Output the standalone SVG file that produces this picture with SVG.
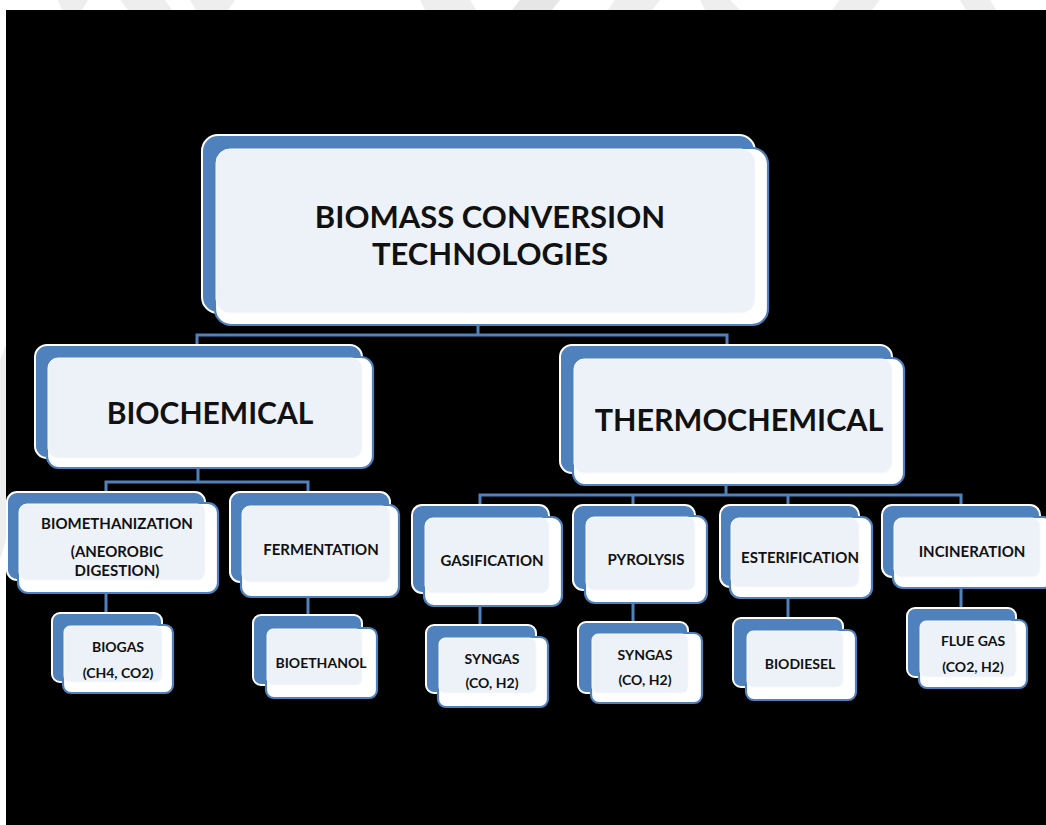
<svg xmlns="http://www.w3.org/2000/svg" width="1046" height="825" viewBox="0 0 1046 825">
<style>
.back{fill:#4F81BD;stroke:#FFFFFF;stroke-width:2}
.front{fill:#FFFFFF;stroke:#4F81BD;stroke-width:2.2}
.ov{fill:#EDF2F9;stroke:#F7F9FC;stroke-width:1}
.conn{fill:none;stroke:#4F81BD;stroke-width:3}
text{font-family:Lato,"Liberation Sans",sans-serif;font-weight:bold;fill:#111;text-anchor:middle}
.t1{font-size:31px}
.t2{font-size:30px}
.t2b{font-size:30.5px}
.t3{font-size:15px}
.t4{font-size:14px}
</style>
<rect x="0" y="0" width="1046" height="825" fill="#FFFFFF"/>
<g fill="#EEEEEE">
<polygon points="58,0 88,0 82,10 62,10"/>
<polygon points="120,0 165,0 172,10 128,10"/>
<polygon points="190,0 235,0 228,10 196,10"/>
<polygon points="420,0 470,0 476,10 425,10"/>
<polygon points="520,0 560,0 552,10 512,10" fill="#E6E6E6"/>
<polygon points="615,0 660,0 652,10 608,10"/>
<polygon points="700,0 730,0 740,10 705,10"/>
<polygon points="840,0 880,0 872,10 832,10"/>
<polygon points="960,0 990,0 996,10 966,10"/>
<polygon points="0,360 6,345 6,540 0,560"/>
</g>
<rect x="6" y="10" width="1040" height="815" fill="#000000"/>
<g id="connectors">
<path class="conn" d="M478,325 V335 M197,345 V335 H727 V345"/>
<path class="conn" d="M198,468 V482 M106,492 V482 H308 V492"/>
<path class="conn" d="M726,485 V495 M480,505 V495 H961 V505 M633,495 V505 M788,495 V505"/>
<path class="conn" d="M106,593 V613 M308,597 V615 M480,606 V625 M633,603 V622 M788,598 V618 M961,588 V608"/>
</g>
<g id="n-top">
<rect class="back" x="202" y="135" width="553" height="178" rx="16"/>
<rect class="front" x="215" y="148" width="553" height="177" rx="16"/>
<rect class="ov" x="216" y="149" width="539" height="164" rx="14"/>
<text class="t1" x="490" y="228">BIOMASS CONVERSION</text>
<text class="t1" x="490" y="265">TECHNOLOGIES</text>
</g>
<g id="n-biochemical">
<rect class="back" x="35" y="345" width="327" height="113" rx="12"/>
<rect class="front" x="47" y="357" width="326" height="111" rx="12"/>
<rect class="ov" x="48" y="358" width="314" height="100" rx="10"/>
<text class="t2" x="210" y="424">BIOCHEMICAL</text>
</g>
<g id="n-thermochemical">
<rect class="back" x="560" y="345" width="332" height="128" rx="12"/>
<rect class="front" x="573" y="358" width="331" height="127" rx="12"/>
<rect class="ov" x="574" y="359" width="318" height="114" rx="10"/>
<text class="t2b" x="739" y="431">THERMOCHEMICAL</text>
</g>
<g id="n-biomethanization">
<rect class="back" x="7" y="492" width="198" height="88" rx="10"/>
<rect class="front" x="18" y="503" width="200" height="90" rx="10"/>
<rect class="ov" x="19" y="504" width="186" height="76" rx="8"/>
<text class="t3" x="117" y="529">BIOMETHANIZATION</text>
<text class="t3" x="117" y="557">(ANEOROBIC</text>
<text class="t3" x="117" y="576">DIGESTION)</text>
</g>
<g id="n-fermentation">
<rect class="back" x="230" y="492" width="160" height="90" rx="10"/>
<rect class="front" x="241" y="505" width="158" height="92" rx="10"/>
<rect class="ov" x="242" y="506" width="148" height="76" rx="8"/>
<text class="t3" x="321" y="555">FERMENTATION</text>
</g>
<g id="n-gasification">
<rect class="back" x="412" y="505" width="137" height="88" rx="10"/>
<rect class="front" x="424" y="517" width="138" height="89" rx="10"/>
<rect class="ov" x="425" y="518" width="124" height="75" rx="8"/>
<text class="t3" x="492" y="566">GASIFICATION</text>
</g>
<g id="n-pyrolysis">
<rect class="back" x="573" y="505" width="122" height="85" rx="10"/>
<rect class="front" x="585" y="516" width="122" height="87" rx="10"/>
<rect class="ov" x="586" y="517" width="109" height="73" rx="8"/>
<text class="t3" x="646" y="565">PYROLYSIS</text>
</g>
<g id="n-esterification">
<rect class="back" x="720" y="505" width="139" height="82" rx="10"/>
<rect class="front" x="730" y="517" width="142" height="81" rx="10"/>
<rect class="ov" x="731" y="518" width="128" height="69" rx="8"/>
<text class="t3" x="800" y="563">ESTERIFICATION</text>
</g>
<g id="n-incineration">
<rect class="back" x="882" y="505" width="158" height="72" rx="10"/>
<rect class="front" x="893" y="517" width="160" height="71" rx="10"/>
<rect class="ov" x="894" y="518" width="146" height="59" rx="8"/>
<text class="t3" x="972" y="557">INCINERATION</text>
</g>
<g id="n-biogas">
<rect class="back" x="52" y="613" width="110" height="69" rx="8"/>
<rect class="front" x="63" y="625" width="110" height="68" rx="8"/>
<rect class="ov" x="64" y="626" width="98" height="56" rx="6"/>
<text class="t4" x="118" y="652">BIOGAS</text>
<text class="t4" x="118" y="678">(CH4, CO2)</text>
</g>
<g id="n-bioethanol">
<rect class="back" x="253" y="615" width="109" height="70" rx="8"/>
<rect class="front" x="266" y="628" width="111" height="70" rx="8"/>
<rect class="ov" x="267" y="629" width="95" height="56" rx="6"/>
<text class="t4" x="321" y="668">BIOETHANOL</text>
</g>
<g id="n-syngas-1">
<rect class="back" x="426" y="625" width="110" height="68" rx="8"/>
<rect class="front" x="438" y="637" width="110" height="70" rx="8"/>
<rect class="ov" x="439" y="638" width="97" height="55" rx="6"/>
<text class="t4" x="492" y="664">SYNGAS</text>
<text class="t4" x="492" y="688">(CO, H2)</text>
</g>
<g id="n-syngas-2">
<rect class="back" x="578" y="622" width="110" height="71" rx="8"/>
<rect class="front" x="591" y="633" width="111" height="70" rx="8"/>
<rect class="ov" x="592" y="634" width="96" height="59" rx="6"/>
<text class="t4" x="645" y="660">SYNGAS</text>
<text class="t4" x="645" y="685">(CO, H2)</text>
</g>
<g id="n-biodiesel">
<rect class="back" x="733" y="618" width="110" height="69" rx="8"/>
<rect class="front" x="746" y="630" width="110" height="70" rx="8"/>
<rect class="ov" x="747" y="631" width="96" height="56" rx="6"/>
<text class="t4" x="800" y="669">BIODIESEL</text>
</g>
<g id="n-fluegas">
<rect class="back" x="907" y="608" width="109" height="69" rx="8"/>
<rect class="front" x="919" y="620" width="108" height="68" rx="8"/>
<rect class="ov" x="920" y="621" width="96" height="56" rx="6"/>
<text class="t4" x="973" y="646">FLUE GAS</text>
<text class="t4" x="973" y="672">(CO2, H2)</text>
</g>
</svg>
